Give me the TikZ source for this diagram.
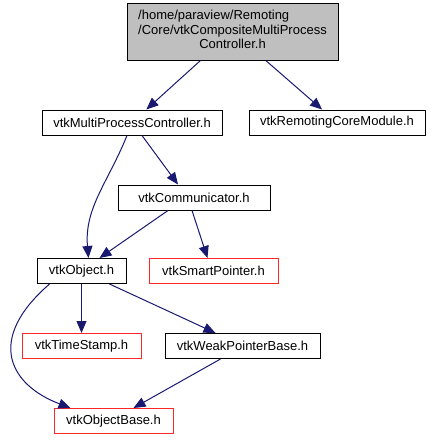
\documentclass[tikz,border=0pt]{standalone}
\usepackage{fontspec}
\setmainfont{Liberation Sans}
\usetikzlibrary{arrows.meta}

\begin{document}
\begin{tikzpicture}[
  x=1pt, y=-1pt,
  file/.style={draw=black, line width=1pt, fill=white, inner sep=0pt, minimum height=25pt, align=center, font=\fontsize{13}{14.5}\selectfont},
  missing/.style={file, draw=red!85},
  root/.style={file, fill=black!25},
  arrow/.style={-{Triangle[length=12pt,width=10pt]}, draw={rgb,255:red,25;green,25;blue,112}, line width=1pt}
]
\useasboundingbox (0,0) rectangle (431,440);

% Root header
\node[root, minimum width=211pt, minimum height=57pt] (root) at (232.5,31.5)
  {\begin{tabular}{@{}l@{}}/home/paraview/Remoting\\/Core/vtkCompositeMultiProcess\\\multicolumn{1}{@{}c@{}}{Controller.h}\end{tabular}};

% Direct includes
\node[file, minimum width=180pt] (mpc) at (132,122.5) {vtkMultiProcessController.h};
\node[file, minimum width=176pt] (core) at (337,122.5) {vtkRemotingCoreModule.h};

% Second level
\node[file, minimum width=152pt] (comm) at (194,197.5) {vtkCommunicator.h};
\node[file, minimum width=89pt] (object) at (81.5,271) {vtkObject.h};
\node[missing, minimum width=129pt] (smartptr) at (213.5,271) {vtkSmartPointer.h};

% Third level
\node[missing, minimum width=119pt] (timestamp) at (81.5,346) {vtkTimeStamp.h};
\node[file, minimum width=155pt] (weakptr) at (242.5,346) {vtkWeakPointerBase.h};
\node[missing, minimum width=119pt] (objbase) at (113.5,421) {vtkObjectBase.h};

% Arrows
\foreach \dst in {mpc, core}
  \draw[arrow] (root) -- (\dst);
\draw[arrow] ([xshift=-5pt]mpc.south) to[out=-112, in=95] ([xshift=7pt]object.north);
\draw[arrow] ([xshift=10pt]mpc.south) -- ([xshift=-16pt]comm.north);
\draw[arrow] ([xshift=-26pt]comm.south) -- ([xshift=18pt]object.north);
\draw[arrow] ([xshift=-2pt]comm.south) -- ([xshift=-6pt]smartptr.north);
\draw[arrow] (object) -- (timestamp);
\draw[arrow] ([xshift=28pt]object.south) -- ([xshift=-27pt]weakptr.north);
\draw[arrow] ([xshift=-32pt]object.south) .. controls (-15,340) and (10,385) .. ([xshift=-43pt]objbase.north);
\draw[arrow] ([xshift=-22pt]weakptr.south) -- ([xshift=20pt]objbase.north);

\end{tikzpicture}
\end{document}
